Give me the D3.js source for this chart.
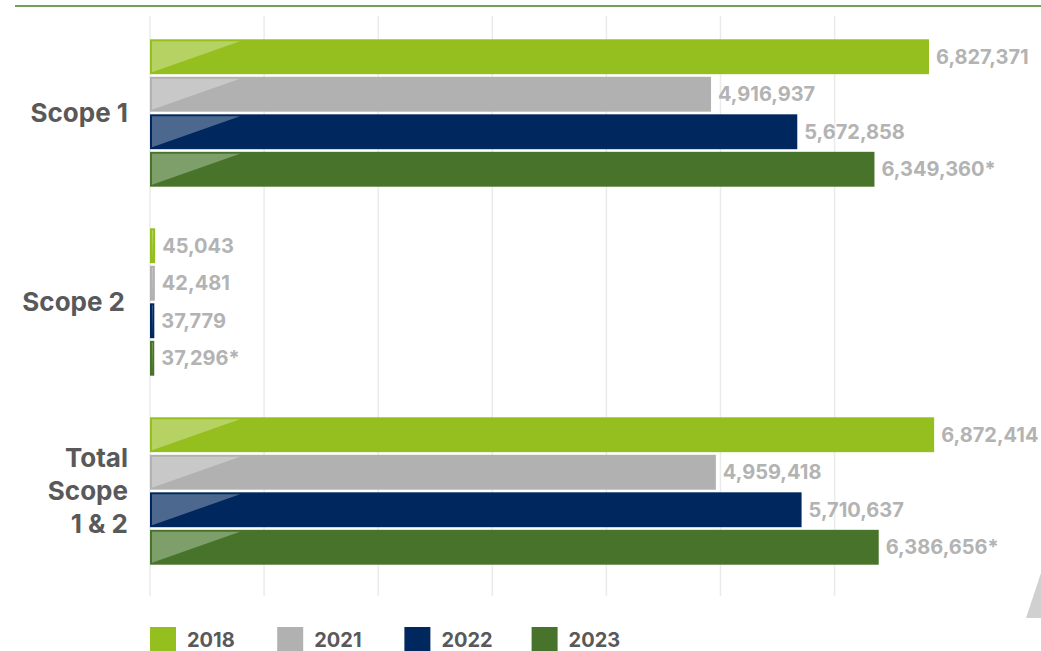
<!DOCTYPE html>
<html>
<head>
<meta charset="utf-8">
<script src="https://cdn.jsdelivr.net/npm/d3@7"></script>
<style>
  body { margin: 0; background: #fff; }
  svg text { font-family: Inter, "Open Sans", sans-serif; font-weight: 700; }
</style>
</head>
<body>
<script>
var width = 1041,
  height = 651;

// data
var categories = ["Scope 1", "Scope 2", "Total Scope 1 & 2"];
var categoryLines = [["Scope 1"], ["Scope 2"], ["Total", "Scope", "1 & 2"]];
var years = ["2018", "2021", "2022", "2023"];
var colors = ["#95bf1f", "#b1b1b1", "#00285e", "#47742a"];
var values2018 = [6827371, 45043, 6872414];
var values2021 = [4916937, 42481, 4959418];
var values2022 = [5672858, 37779, 5710637];
var values2023 = [6349360, 37296, 6386656];
var labelSuffix = ["", "", "", "*"];
var ticks = [0, 1000000, 2000000, 3000000, 4000000, 5000000, 6000000];

var series = [values2018, values2021, values2022, values2023];

var svg = d3.select("body").append("svg")
  .attr("width", width)
  .attr("height", height);

var x = d3.scaleLinear().domain([0, 1000000]).range([150, 264.1]);

var y = d3.scaleBand()
  .domain(categories)
  .range([18.5, 585.5])
  .paddingInner(0.22)
  .paddingOuter(0.11);

var yInner = d3.scaleBand()
  .domain(years)
  .range([0, y.bandwidth()])
  .paddingInner(0.07)
  .paddingOuter(0);

// top rule
svg.append("line")
  .attr("x1", 15).attr("x2", width)
  .attr("y1", 6).attr("y2", 6)
  .attr("stroke", "#74a05c")
  .attr("stroke-width", 2);

// gridlines
svg.append("g")
  .selectAll("line")
  .data(ticks)
  .enter().append("line")
    .attr("x1", function(d) { return x(d); })
    .attr("x2", function(d) { return x(d); })
    .attr("y1", 16)
    .attr("y2", 596)
    .attr("stroke", "#ebebeb")
    .attr("stroke-width", 1.5);

var rows = [];
categories.forEach(function(c, ci) {
  years.forEach(function(yr, yi) {
    rows.push({cat: c, year: yr, yi: yi, value: series[yi][ci]});
  });
});

var bar = svg.append("g").selectAll("g")
  .data(rows)
  .enter().append("g")
    .attr("transform", function(d) { return "translate(0," + (y(d.cat) + yInner(d.year)) + ")"; });

bar.append("rect")
  .attr("x", x(0))
  .attr("width", function(d) { return x(d.value) - x(0); })
  .attr("height", yInner.bandwidth())
  .attr("fill", function(d) { return colors[d.yi]; });

// glossy highlight triangle
bar.append("path")
  .attr("fill", "#fff")
  .attr("fill-opacity", 0.3)
  .attr("d", function(d) {
    var w = x(d.value) - x(0);
    var tw = Math.min(88, Math.max(w - 4, 0.8));
    var x0 = x(0) + 2, h = yInner.bandwidth();
    return "M" + x0 + ",2L" + (x0 + tw) + ",2L" + x0 + "," + (h - 2) + "Z";
  });

bar.append("text")
  .attr("x", function(d) { return x(d.value) + 7; })
  .attr("y", yInner.bandwidth() / 2)
  .attr("dy", "0.36em")
  .attr("fill", "#b3b3b3")
  .attr("font-size", 20)
  .text(function(d) { return d3.format(",")(d.value) + labelSuffix[d.yi]; });

// category labels
var cat = svg.append("g").selectAll("text")
  .data(categories)
  .enter().append("text")
    .attr("text-anchor", "end")
    .attr("fill", "#595959")
    .attr("font-size", 26)
    .attr("x", 128)
    .attr("y", function(d, i) {
      var n = categoryLines[i].length;
      return y(d) + y.bandwidth() / 2 - (n - 1) * 16.5;
    });

cat.selectAll("tspan")
  .data(function(d, i) { return categoryLines[i]; })
  .enter().append("tspan")
    .attr("x", function(d, i, nodes) { return d === "Scope 2" ? 125 : 128; })
    .attr("dy", function(d, i) { return i === 0 ? "0.36em" : "33"; })
    .text(function(d) { return d; });

// legend
var legend = svg.append("g").selectAll("g")
  .data(years)
  .enter().append("g")
    .attr("transform", function(d, i) { return "translate(" + (150 + i * 127.2) + ",627)"; });

legend.append("rect")
  .attr("width", 26)
  .attr("height", 26)
  .attr("fill", function(d, i) { return colors[i]; });

legend.append("text")
  .attr("x", 37)
  .attr("y", 19.5)
  .attr("fill", "#595959")
  .attr("font-size", 20)
  .text(function(d) { return d; });

// corner decoration
svg.append("path")
  .attr("d", "M1041,573L1041,618L1026,618Z")
  .attr("fill", "#d0d0d0");
</script>
</body>
</html>
